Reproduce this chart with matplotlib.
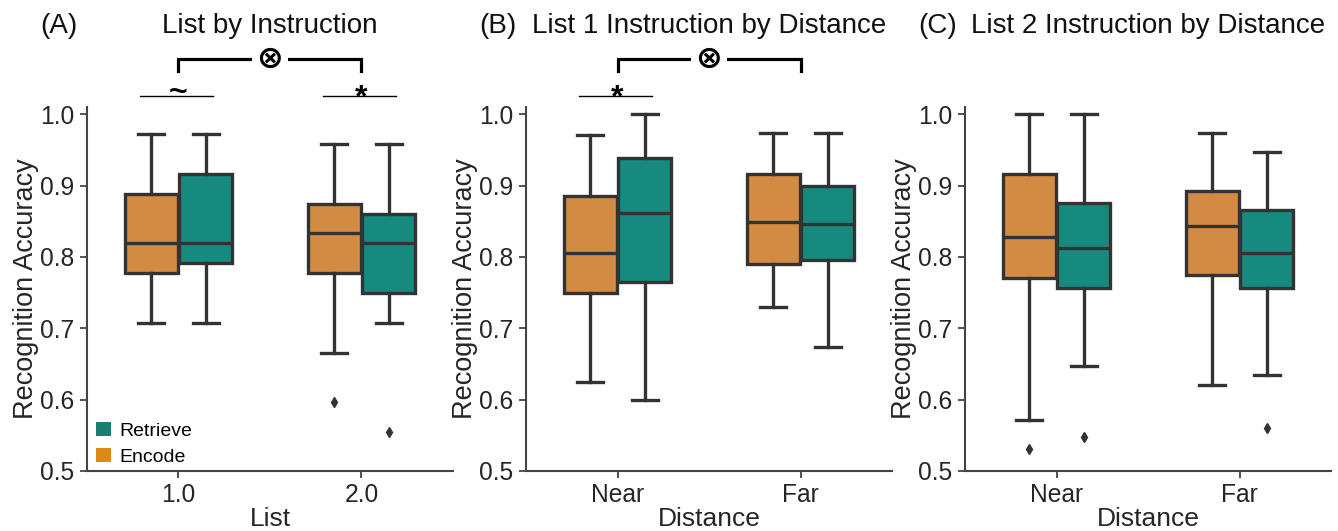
import matplotlib
matplotlib.use("Agg")
import matplotlib.pyplot as plt
from matplotlib.patches import Patch

plt.rcParams['font.family'] = ['Liberation Sans', 'DejaVu Sans']

# ---------------- data (box summaries) ----------------
instructions = ["Encode", "Retrieve"]
panel_titles = ["List by Instruction", "List 1 Instruction by Distance", "List 2 Instruction by Distance"]
panel_letters = ["(A)", "(B)", "(C)"]
x_labels = ["List", "Distance", "Distance"]
tick_labels_A = ["1.0", "2.0"]
tick_labels_BC = ["Near", "Far"]

# Panel A: List 1.0, List 2.0
A_enc_lo = [0.708, 0.666]
A_enc_q1 = [0.778, 0.778]
A_enc_med = [0.819, 0.833]
A_enc_q3 = [0.888, 0.874]
A_enc_hi = [0.972, 0.958]
A_enc_fliers = [[], [0.597]]
A_ret_lo = [0.708, 0.708]
A_ret_q1 = [0.792, 0.750]
A_ret_med = [0.819, 0.819]
A_ret_q3 = [0.916, 0.860]
A_ret_hi = [0.972, 0.958]
A_ret_fliers = [[], [0.555]]

# Panel B: List 1, Near / Far
B_enc_lo = [0.625, 0.730]
B_enc_q1 = [0.750, 0.790]
B_enc_med = [0.806, 0.849]
B_enc_q3 = [0.885, 0.916]
B_enc_hi = [0.971, 0.973]
B_enc_fliers = [[], []]
B_ret_lo = [0.600, 0.674]
B_ret_q1 = [0.765, 0.795]
B_ret_med = [0.861, 0.846]
B_ret_q3 = [0.939, 0.900]
B_ret_hi = [1.000, 0.974]
B_ret_fliers = [[], []]

# Panel C: List 2, Near / Far
C_enc_lo = [0.571, 0.621]
C_enc_q1 = [0.771, 0.775]
C_enc_med = [0.828, 0.843]
C_enc_q3 = [0.916, 0.892]
C_enc_hi = [1.000, 0.973]
C_enc_fliers = [[0.531], []]
C_ret_lo = [0.647, 0.634]
C_ret_q1 = [0.757, 0.756]
C_ret_med = [0.812, 0.806]
C_ret_q3 = [0.875, 0.865]
C_ret_hi = [1.000, 0.947]
C_ret_fliers = [[0.548], [0.560]]

# ---------------- style ----------------
ENC_BOX = "#D38B44"
RET_BOX = "#168A7E"
ENC_LEG = "#DE8A12"
RET_LEG = "#1A7D72"
EDGE = "#333333"
SPINE = "#444444"

W, H = 1338, 531
fig = plt.figure(figsize=(W / 100, H / 100), dpi=100)

ax_lefts = [87, 526, 965]
ax_w = 366
ax_top, ax_bot = 107, 471
axes = []
for l in ax_lefts:
    axes.append(fig.add_axes([l / W, 1 - ax_bot / H, ax_w / W, (ax_bot - ax_top) / H]))


def stats_list(lo, q1, med, q3, hi, fl):
    return [dict(whislo=a, q1=b, med=c, q3=d, whishi=e, fliers=f, label="")
            for a, b, c, d, e, f in zip(lo, q1, med, q3, hi, fl)]


panels = [
    (stats_list(A_enc_lo, A_enc_q1, A_enc_med, A_enc_q3, A_enc_hi, A_enc_fliers),
     stats_list(A_ret_lo, A_ret_q1, A_ret_med, A_ret_q3, A_ret_hi, A_ret_fliers), tick_labels_A),
    (stats_list(B_enc_lo, B_enc_q1, B_enc_med, B_enc_q3, B_enc_hi, B_enc_fliers),
     stats_list(B_ret_lo, B_ret_q1, B_ret_med, B_ret_q3, B_ret_hi, B_ret_fliers), tick_labels_BC),
    (stats_list(C_enc_lo, C_enc_q1, C_enc_med, C_enc_q3, C_enc_hi, C_enc_fliers),
     stats_list(C_ret_lo, C_ret_q1, C_ret_med, C_ret_q3, C_ret_hi, C_ret_fliers), tick_labels_BC),
]

offset = 0.15
bw = 0.29
for i, (ax, (enc, ret, tl)) in enumerate(zip(axes, panels)):
    cats = list(range(len(tl)))
    for st, col, sgn in ((enc, ENC_BOX, -1), (ret, RET_BOX, 1)):
        ax.bxp(st, positions=[c + sgn * offset for c in cats], widths=bw,
               patch_artist=True, showfliers=True, manage_ticks=False,
               boxprops=dict(facecolor=col, edgecolor=EDGE, linewidth=2.4),
               medianprops=dict(color=EDGE, linewidth=2.4),
               whiskerprops=dict(color=EDGE, linewidth=2.4),
               capprops=dict(color=EDGE, linewidth=2.4),
               flierprops=dict(marker="d", markerfacecolor=EDGE, markeredgecolor=EDGE,
                               markersize=5.5))
    ax.set_xlim(-0.5, len(tl) - 0.5)
    ax.set_ylim(0.5, 1.01)
    ax.set_xticks(cats)
    ax.set_xticklabels(tl)
    ax.set_yticks([0.5, 0.6, 0.7, 0.8, 0.9, 1.0])
    ax.set_yticklabels(["0.5", "0.6", "0.7", "0.8", "0.9", "1.0"])
    for s in ("top", "right"):
        ax.spines[s].set_visible(False)
    for s in ("left", "bottom"):
        ax.spines[s].set_color(SPINE)
        ax.spines[s].set_linewidth(1.5)
    ax.tick_params(axis="both", labelsize=17.7, length=5, width=1.3, color=SPINE,
                   labelcolor="#262626", pad=4)
    ax.set_xlabel(x_labels[i], fontsize=19, color="#262626", labelpad=0)
    ax.set_ylabel("Recognition Accuracy", fontsize=19.5, color="#262626", labelpad=1)
    # title and panel letter
    cx = (ax_lefts[i] + ax_w / 2) / W
    fig.text(cx, 1 - 26 / H, panel_titles[i], fontsize=20, ha="center", va="center", color="#111111")
    fig.text((ax_lefts[i] - 47) / W, 1 - 26 / H, panel_letters[i], fontsize=20, ha="left",
             va="center", color="#111111")

# legend in panel A
handles = [Patch(facecolor=RET_LEG, edgecolor="none"), Patch(facecolor=ENC_LEG, edgecolor="none")]
axes[0].legend(handles, ["Retrieve", "Encode"], loc="lower left", bbox_to_anchor=(-0.015, -0.025),
               frameon=False, fontsize=14, handlelength=0.75, handleheight=0.75,
               handletextpad=0.45, labelspacing=0.4, borderaxespad=0.35)


# ---------------- significance annotations ----------------
def interaction_bracket(ax, x0, x1, y, drop):
    ax.plot([x0, x0, x1, x1], [y - drop, y, y, y - drop], color="black", lw=2.3,
            clip_on=False, solid_joinstyle="miter")
    ax.text((x0 + x1) / 2, y, "\u2297", fontsize=23, fontweight="bold", ha="center",
            va="center", family="DejaVu Sans", clip_on=False,
            bbox=dict(facecolor="white", edgecolor="none", pad=3))


def pair_mark(ax, xc, y, sym, ybase):
    ax.plot([xc - 0.21, xc + 0.19], [y, y], color="black", lw=1.0, clip_on=False)
    ax.text(xc, ybase, sym, fontsize=23, fontweight="bold", ha="center", va="baseline",
            clip_on=False, color="black")


interaction_bracket(axes[0], 0, 1, 1.077, 0.016)
pair_mark(axes[0], 0, 1.025, "~", 1.018)
pair_mark(axes[0], 1, 1.025, "*", 1.011)
interaction_bracket(axes[1], 0, 1, 1.077, 0.016)
pair_mark(axes[1], 0, 1.025, "*", 1.011)

fig.savefig("out.png", dpi=100)
